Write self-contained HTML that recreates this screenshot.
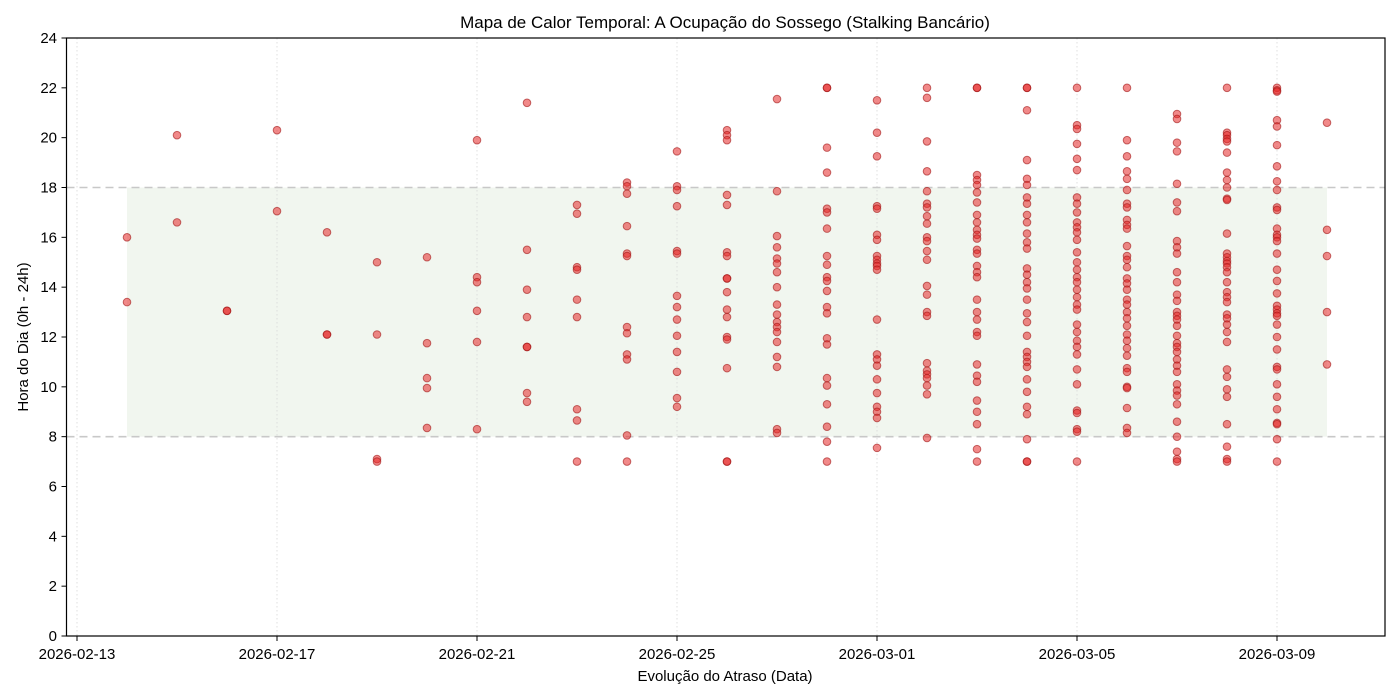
<!DOCTYPE html>
<html><head><meta charset="utf-8"><style>
html,body{margin:0;padding:0;background:#fff;}
svg{display:block;font-family:"Liberation Sans",sans-serif;}
</style></head><body>
<svg id="s" width="1400" height="700" xmlns="http://www.w3.org/2000/svg">
<rect x="0" y="0" width="1400" height="700" fill="#fff"/>
<rect x="127" y="187.5" width="1200" height="249.2" fill="#f1f6ef"/>
<g id="grid" stroke="#d8d8d8" stroke-width="0.8" stroke-dasharray="1.5,2.5"></g>
<line x1="66.5" x2="1385" y1="187.5" y2="187.5" stroke="#c8c8c8" stroke-width="1.6" stroke-dasharray="8,5"/>
<line x1="66.5" x2="1385" y1="436.7" y2="436.7" stroke="#c8c8c8" stroke-width="1.6" stroke-dasharray="8,5"/>
<g id="pts"></g>
<rect x="66.5" y="38" width="1318.5" height="598" fill="none" stroke="#000" stroke-width="1.2"/>
<g id="ticks" font-size="15" fill="#000"></g>
<text x="725" y="28" font-size="17" text-anchor="middle">Mapa de Calor Temporal: A Ocupação do Sossego (Stalking Bancário)</text>
<text x="725" y="681" font-size="15" text-anchor="middle">Evolução do Atraso (Data)</text>
<text x="28" y="337" font-size="15" text-anchor="middle" transform="rotate(-90 28 337)">Hora do Dia (0h - 24h)</text>
</svg>
<script>
var NS="http://www.w3.org/2000/svg";
function el(t,a,p,txt){var e=document.createElementNS(NS,t);for(var k in a)e.setAttribute(k,a[k]);if(txt!==undefined)e.textContent=txt;p.appendChild(e);return e;}
function X(d){return 77+50*d;}function Y(h){return 636-24.917*h;}
var g=document.getElementById('grid'),tk=document.getElementById('ticks'),pts=document.getElementById('pts');
var labels=["2026-02-13","2026-02-17","2026-02-21","2026-02-25","2026-03-01","2026-03-05","2026-03-09"];
for(var i=0;i<7;i++){var x=X(i*4);el('line',{x1:x,x2:x,y1:38,y2:636},g);
el('line',{x1:x,x2:x,y1:636,y2:641,stroke:'#000','stroke-width':1},tk);
el('text',{x:x,y:659,'text-anchor':'middle'},tk,labels[i]);}
for(var h=0;h<=24;h+=2){var y=Y(h);el('line',{x1:61.5,x2:66.5,y1:y,y2:y,stroke:'#000','stroke-width':1},tk);
el('text',{x:57,y:y+5,'text-anchor':'end'},tk,String(h));}
var D={1:[16,13.4],2:[20.1,16.6],3:[13.05,13.05],4:[20.3,17.05],5:[16.2,12.1,12.1],6:[15,12.1,7.1,7.0],
7:[15.2,11.75,10.35,9.95,8.35],8:[19.9,14.4,14.2,13.05,11.8,8.3],9:[21.4,15.5,13.9,12.8,11.6,11.6,9.75,9.4],
10:[17.3,16.95,14.8,14.7,13.5,12.8,9.1,8.65,7.0],11:[18.2,18.05,17.75,16.45,15.35,15.25,12.4,12.15,11.3,11.1,8.05,7.0],
12:[19.45,18.05,17.9,17.25,15.45,15.35,13.65,13.2,12.7,12.05,11.4,10.6,9.55,9.2],
13:[20.3,20.1,19.9,17.7,17.3,15.4,15.25,14.35,14.35,13.8,13.1,12.8,12.0,11.9,10.75,7.0,7.0],
14:[21.55,17.85,16.05,15.6,15.15,14.95,14.6,14.0,13.3,12.9,12.6,12.4,12.2,11.8,11.2,10.8,8.3,8.15],
15:[22,22,19.6,18.6,17.15,17.0,16.35,15.25,14.9,14.4,14.25,13.85,13.2,12.95,11.95,11.7,10.35,10.05,9.3,8.4,7.8,7.0],
16:[21.5,20.2,19.25,17.25,17.15,16.1,15.9,15.25,15.1,14.95,14.85,14.7,12.7,11.3,11.1,10.85,10.3,9.75,9.2,9.0,8.75,7.55],
17:[22,21.6,19.85,18.65,17.85,17.35,17.2,16.85,16.55,16.0,15.85,15.45,15.1,14.05,13.7,13.0,12.85,10.95,10.65,10.5,10.35,10.05,9.7,7.95],
18:[22,22,18.5,18.3,18.1,17.8,17.4,16.9,16.6,16.3,16.1,15.95,15.5,15.35,14.85,14.6,14.4,13.5,13.0,12.7,12.2,12.05,10.9,10.45,10.2,9.45,9.0,8.5,7.5,7.0],
19:[22,22,21.1,19.1,18.35,18.1,17.6,17.35,16.9,16.6,16.15,15.8,15.55,14.75,14.5,14.2,13.95,13.5,12.95,12.6,12.05,11.4,11.2,11.0,10.8,10.3,9.8,9.2,8.9,7.9,7.0,7.0],
20:[22,20.5,20.35,19.75,19.15,18.7,17.6,17.35,17.0,16.6,16.4,16.2,15.9,15.4,15.0,14.7,14.4,14.2,13.9,13.6,13.3,13.1,12.5,12.2,11.85,11.6,11.3,10.7,10.1,9.05,8.95,8.3,8.2,7.0],
21:[22,19.9,19.25,18.65,18.35,17.9,17.35,17.2,16.7,16.5,16.35,15.65,15.25,15.1,14.8,14.35,14.15,13.9,13.5,13.3,13.0,12.75,12.45,12.1,11.85,11.55,11.25,10.75,10.6,10.0,9.95,9.15,8.35,8.15],
22:[20.95,20.75,19.8,19.45,18.15,17.4,17.05,15.85,15.6,15.35,14.6,14.2,13.7,13.45,13.0,12.85,12.7,12.45,12.05,11.75,11.6,11.4,11.1,10.85,10.6,10.1,9.85,9.65,9.3,8.6,8.0,7.4,7.1,7.0],
23:[22,20.2,20.1,19.95,19.85,19.4,18.6,18.3,18.0,17.55,17.5,16.15,15.35,15.2,15.05,14.95,14.8,14.6,14.2,13.8,13.6,13.4,12.9,12.75,12.5,12.2,11.8,10.7,10.4,9.9,9.6,8.5,7.6,7.1,7.0],
24:[22,21.9,21.85,20.7,20.45,19.7,18.85,18.25,17.9,17.2,17.1,16.35,16.1,16.0,15.85,15.35,14.7,14.25,13.75,13.25,13.1,12.95,12.85,12.5,12.0,11.5,10.8,10.7,10.1,9.6,9.1,8.55,8.5,7.9,7.0],
25:[20.6,16.3,15.25,13.0,10.9]};
for(var d in D){D[d].forEach(function(h){el('circle',{cx:X(+d),cy:Y(h),r:3.8,fill:'rgba(230,40,40,0.55)',stroke:'rgba(160,20,20,0.6)','stroke-width':1},pts);});}
</script>
</body></html>
